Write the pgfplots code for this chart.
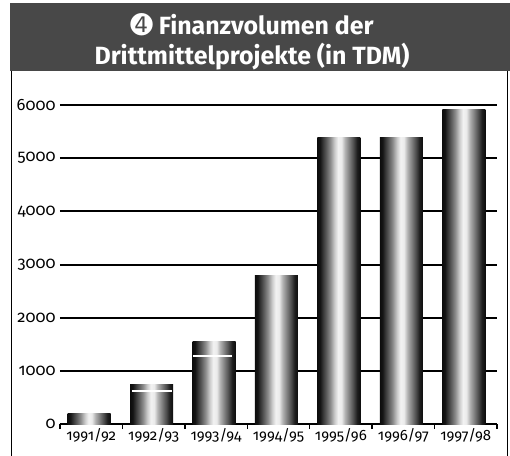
\documentclass[border=0pt]{standalone}
\usepackage{fontspec}
\setmainfont{Fira Sans}[Numbers=OldStyle]
\newfontfamily\titlefont{Fira Sans}
\newfontfamily\dingfont{DejaVu Sans}
\usepackage{pgfplots}
\pgfplotsset{compat=1.18}
\definecolor{hdr}{HTML}{484848}
\pgfdeclarehorizontalshading{cyl}{100bp}{color(0bp)=(black!95); color(25bp)=(black!95); color(28bp)=(black!92); color(31bp)=(black!80); color(35bp)=(black!65); color(40bp)=(black!45); color(45bp)=(black!20); color(49bp)=(black!5); color(53bp)=(black!8); color(57bp)=(black!30); color(62bp)=(black!50); color(67bp)=(black!70); color(71bp)=(black!88); color(75bp)=(black!95); color(100bp)=(black!95)}
\pgfplotsset{cylbar/.style={ybar, bar width=43bp, bar shift=-2bp, draw=none, shading=cyl, forget plot}}
\begin{document}
\begin{tikzpicture}
\useasboundingbox (-60bp,-32bp) rectangle (450bp,424bp);
\fill[white] (-60bp,-32bp) rectangle (450bp,424bp);
\begin{axis}[
  at={(0,0)}, anchor=south west,
  scale only axis, width=437bp, height=319bp,
  xmin=0.5, xmax=7.5, ymin=0, ymax=6000,
  xtick={1,...,7},
  xticklabels={1991/92,1992/93,1993/94,1994/95,1995/96,1996/97,1997/98},
  minor xtick={0.5,1.5,...,7.5},
  ytick={0,1000,...,6000},
  axis lines*=left,
  y axis line style={draw=none},
  x axis line style={black, line width=2bp},
  ymajorgrids, grid style={black, line width=2bp},
  major tick length=0pt, minor tick length=5bp, tick align=outside,
  minor tick style={black, line width=1.3bp},
  /pgf/number format/assume math mode=true,
  /pgf/number format/1000 sep={},
  yticklabel style={font=\fontsize{16.5}{16.5}\selectfont, xshift=-1bp},
  xticklabel style={font=\fontsize{15}{15}\selectfont, yshift=-1bp},
  clip=false,
]
\addplot[cylbar] coordinates {(1,200)};
\addplot[cylbar] coordinates {(2,750)};
\addplot[cylbar] coordinates {(3,1560)};
\addplot[cylbar] coordinates {(4,2800)};
\addplot[cylbar] coordinates {(5,5380)};
\addplot[cylbar] coordinates {(6,5380)};
\addplot[cylbar] coordinates {(7,5920)};
\addplot[white, line width=1.2bp] coordinates {(1.66,620) (2.29,620)};
\addplot[white, line width=1.2bp] coordinates {(2.63,1280) (3.25,1280)};
\end{axis}
\fill[hdr] (-50bp,353bp) rectangle (450bp,421bp);
\draw[black, line width=0.8bp] (-49bp,353bp) -- (-49bp,-32bp);
\draw[black, line width=0.8bp] (447bp,353bp) -- (447bp,-32bp);
\node[text=white, align=center, font=\titlefont\bfseries\fontsize{25}{30}\selectfont] at (192bp,382bp)
  {{\dingfont\fontsize{27}{30}\selectfont ➍}~Finanzvolumen der\\Drittmittelprojekte (in TDM)};
\end{tikzpicture}
\end{document}
